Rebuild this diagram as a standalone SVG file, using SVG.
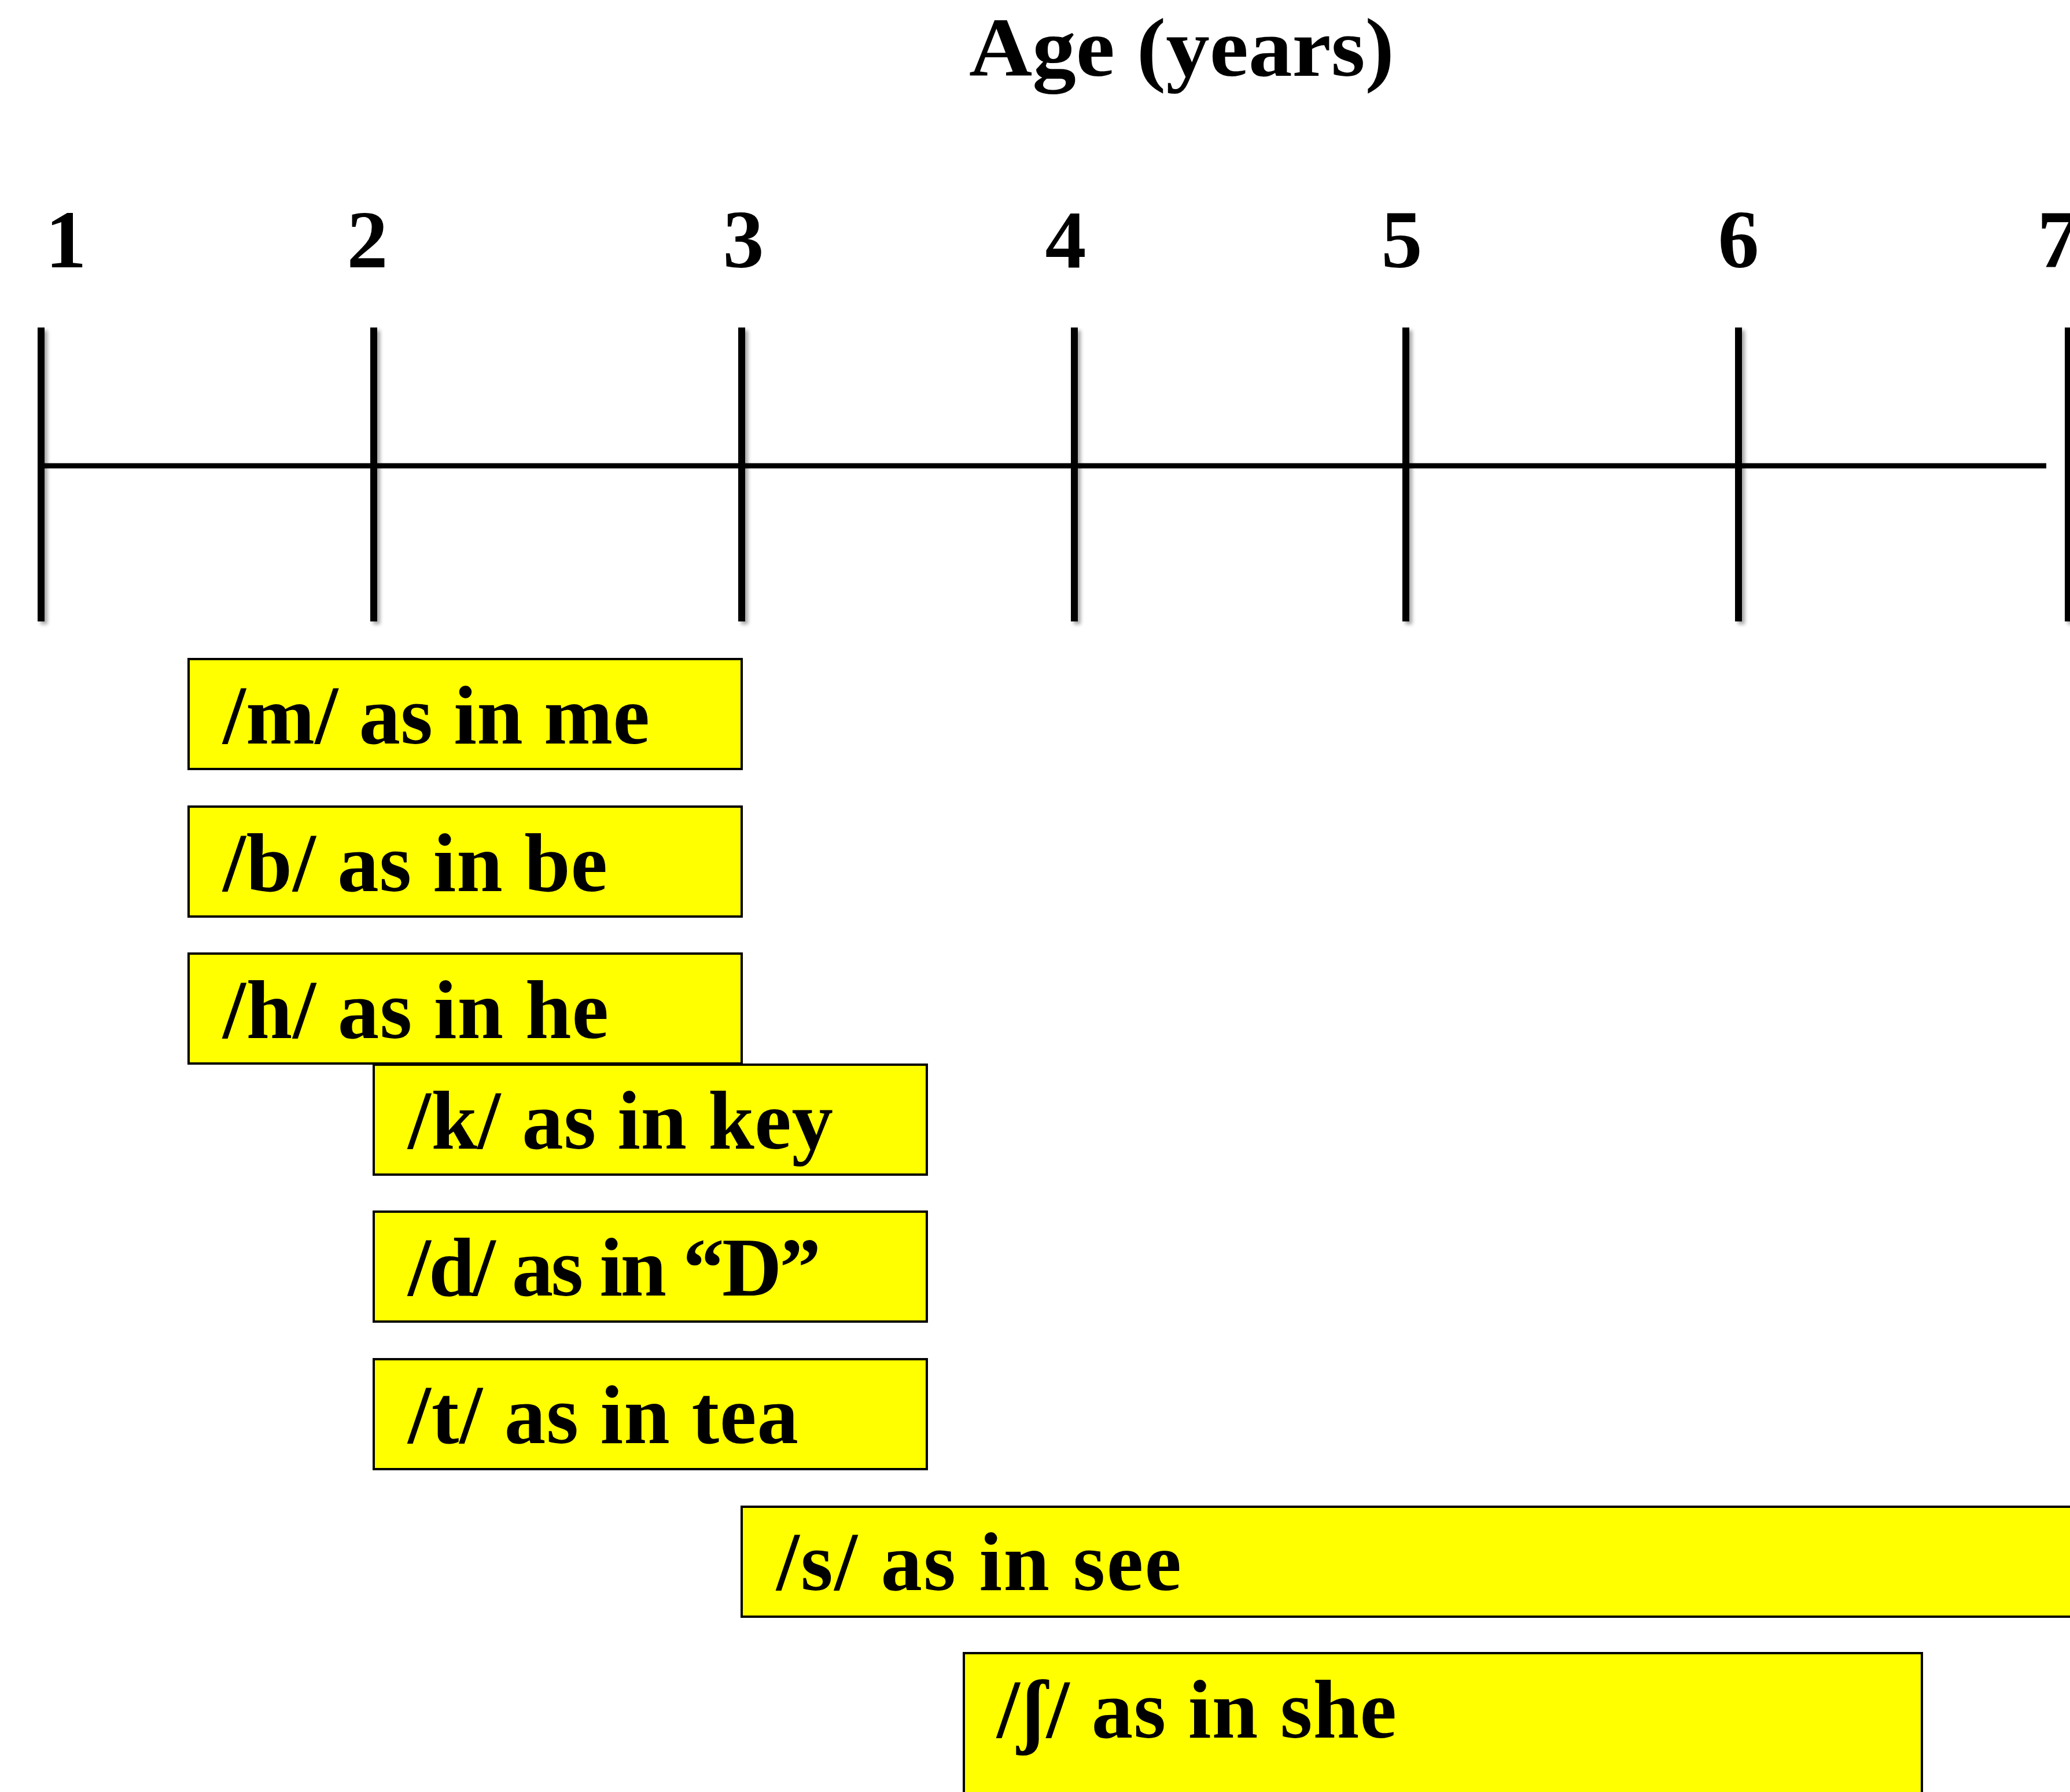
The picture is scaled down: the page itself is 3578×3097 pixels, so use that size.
<svg xmlns="http://www.w3.org/2000/svg" width="3578" height="3097" viewBox="0 0 3578 3097">
  <defs>
    <filter id="tickShadow" x="-200%" y="-5%" width="500%" height="115%">
      <feGaussianBlur in="SourceAlpha" stdDeviation="3"/>
      <feOffset dx="5" dy="5" result="off"/>
      <feComponentTransfer><feFuncA type="linear" slope="0.35"/></feComponentTransfer>
      <feMerge><feMergeNode/><feMergeNode in="SourceGraphic"/></feMerge>
    </filter>
  </defs>
  <style>
    .lbl { font-family: "Liberation Serif", "DejaVu Serif", serif; font-weight: bold; fill: #000; }
    .title { font-size: 145px; }
    .num { font-size: 142px; text-anchor: middle; }
    .box rect { fill: #FFFF00; stroke: #000; stroke-width: 4; }
    .box text { font-size: 143px; }
    .tick { stroke: #000; stroke-width: 12; }
    .axis { stroke: #000; stroke-width: 9; }
  </style>
  <rect width="3578" height="3097" fill="#fff"/>

  <!-- heading -->
  <text id="title" class="lbl title" x="1675" y="131" textLength="735" lengthAdjust="spacingAndGlyphs">Age (years)</text>

  <!-- year numbers -->
  <g id="years">
    <text class="lbl num" x="114" y="462">1</text>
    <text class="lbl num" x="635" y="462">2</text>
    <text class="lbl num" x="1285" y="462">3</text>
    <text class="lbl num" x="1842" y="462">4</text>
    <text class="lbl num" x="2423" y="462">5</text>
    <text class="lbl num" x="3005" y="462">6</text>
    <text class="lbl num" x="3557" y="462">7</text>
  </g>

  <!-- timeline axis with year ticks -->
  <g id="axis">
    <line class="axis" x1="71" y1="805" x2="3537" y2="805"/>
    <g filter="url(#tickShadow)">
      <line class="tick" x1="71" y1="566" x2="71" y2="1074"/>
      <line class="tick" x1="646" y1="566" x2="646" y2="1074"/>
      <line class="tick" x1="1282" y1="566" x2="1282" y2="1074"/>
      <line class="tick" x1="1857" y1="566" x2="1857" y2="1074"/>
      <line class="tick" x1="2430" y1="566" x2="2430" y2="1074"/>
      <line class="tick" x1="3005" y1="566" x2="3005" y2="1074"/>
      <line class="tick" x1="3575" y1="566" x2="3575" y2="1074"/>
    </g>
  </g>

  <!-- sound acquisition ranges -->
  <g id="sound-m" class="box">
    <rect x="326" y="1139" width="956" height="190"/>
    <text class="lbl" x="385" y="1285" textLength="738">/m/ as in me</text>
  </g>
  <g id="sound-b" class="box">
    <rect x="326" y="1394" width="956" height="190"/>
    <text class="lbl" x="385" y="1540" textLength="665">/b/ as in be</text>
  </g>
  <g id="sound-h" class="box">
    <rect x="326" y="1648" width="956" height="190"/>
    <text class="lbl" x="385" y="1794" textLength="667">/h/ as in he</text>
  </g>
  <g id="sound-k" class="box">
    <rect x="646" y="1840" width="956" height="190"/>
    <text class="lbl" x="705" y="1985" textLength="735">/k/ as in key</text>
  </g>
  <g id="sound-d" class="box">
    <rect x="646" y="2094" width="956" height="190"/>
    <text class="lbl" x="705" y="2239" textLength="714">/d/ as in “D”</text>
  </g>
  <g id="sound-t" class="box">
    <rect x="646" y="2349" width="956" height="190"/>
    <text class="lbl" x="705" y="2494" textLength="675">/t/ as in tea</text>
  </g>
  <g id="sound-s" class="box">
    <rect x="1282" y="2604" width="2320" height="190"/>
    <text class="lbl" x="1342" y="2748" textLength="700">/s/ as in see</text>
  </g>
  <g id="sound-sh" class="box">
    <rect x="1666" y="2857" width="1656" height="300"/>
    <text class="lbl" x="1723" y="3003" textLength="691">/ʃ/ as in she</text>
  </g>
</svg>
